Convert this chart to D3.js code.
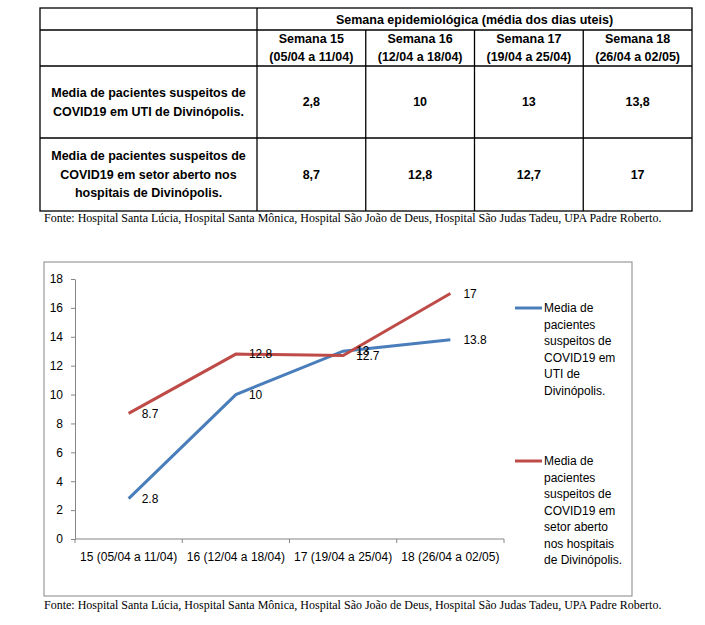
<!DOCTYPE html>
<html>
<head>
<meta charset="utf-8">
<script src="https://cdn.jsdelivr.net/npm/d3@7"></script>
<style>
body { margin: 0; background: #fff; }
text { font-family: "Liberation Sans", Arial, sans-serif; }
</style>
</head>
<body>
<script>
// Semanas epidemiologicas
var weeks = ["15", "16", "17", "18"];
var ranges = ["05/04 a 11/04", "12/04 a 18/04", "19/04 a 25/04", "26/04 a 02/05"];

// Series
var seriesNames = [
    "Media de pacientes suspeitos de COVID19 em UTI de Divinópolis.",
    "Media de pacientes suspeitos de COVID19 em setor aberto nos hospitais de Divinópolis."
];
var utiValues = [2.8, 10, 13, 13.8];
var abertoValues = [8.7, 12.8, 12.7, 17];
var seriesColors = ["#4a7ebb", "#be4b48"];

var yTicks = [0, 2, 4, 6, 8, 10, 12, 14, 16, 18];
var tableTitle = "Semana epidemiológica (média dos dias uteis)";
var fonte = "Fonte: Hospital Santa Lúcia, Hospital Santa Mônica, Hospital São João de Deus, Hospital São Judas Tadeu, UPA Padre Roberto.";

var allValues = [utiValues, abertoValues];

// comma decimal for the table
var br = d3.formatLocale({ decimal: ",", thousands: ".", grouping: [3], currency: ["", ""] });
var fmtBR = br.format("~g");

var svg = d3.select("body").append("svg")
    .attr("width", 705)
    .attr("height", 625);

// wrap text into lines that fit a width
function wrap(textSel, str, maxWidth) {
    var words = str.split(" ");
    var lines = [];
    var line = [];
    var tmp = textSel.append("tspan");
    words.forEach(function (w) {
        line.push(w);
        tmp.text(line.join(" "));
        if (tmp.node().getComputedTextLength() > maxWidth && line.length > 1) {
            line.pop();
            lines.push(line.join(" "));
            line = [w];
        }
    });
    lines.push(line.join(" "));
    tmp.remove();
    return lines;
}

// ---------- Table ----------
var tLeft = 40, tRight = 692, tTop = 8, tBottom = 211;
var col1 = 257;
var rowY = [tTop, 30, 66, 138, tBottom];
var cols = d3.scaleBand().domain(weeks).range([col1, tRight]);

var table = svg.append("g").attr("stroke", "#000").attr("stroke-width", 1.3);
table.append("rect")
    .attr("x", tLeft).attr("y", tTop)
    .attr("width", tRight - tLeft).attr("height", tBottom - tTop)
    .attr("fill", "none");
table.append("line").attr("x1", col1).attr("x2", col1).attr("y1", tTop).attr("y2", tBottom);
table.selectAll(".vcol")
    .data(weeks.slice(1))
    .enter().append("line")
    .attr("x1", function (d) { return cols(d); })
    .attr("x2", function (d) { return cols(d); })
    .attr("y1", rowY[1]).attr("y2", tBottom);
table.selectAll(".hrow")
    .data(rowY.slice(1, 4))
    .enter().append("line")
    .attr("x1", tLeft).attr("x2", tRight)
    .attr("y1", function (d) { return d; })
    .attr("y2", function (d) { return d; });

var tText = svg.append("g")
    .attr("font-weight", "bold")
    .attr("font-size", "12.5px")
    .attr("text-anchor", "middle")
    .attr("fill", "#000");

tText.append("text")
    .attr("x", (col1 + tRight) / 2)
    .attr("y", 20)
    .attr("dy", "0.35em")
    .text(tableTitle);

weeks.forEach(function (w, i) {
    var cx = cols(w) + cols.bandwidth() / 2;
    tText.append("text").attr("x", cx).attr("y", 39).attr("dy", "0.35em").text("Semana " + w);
    tText.append("text").attr("x", cx).attr("y", 57).attr("dy", "0.35em").text("(" + ranges[i] + ")");
});

seriesNames.forEach(function (name, r) {
    var top = rowY[r + 2], bot = rowY[r + 3];
    var cy = (top + bot) / 2;
    var t = tText.append("text");
    var lines = wrap(t, name, 205);
    var lh = 18.5;
    lines.forEach(function (ln, k) {
        t.append("tspan")
            .attr("x", (tLeft + col1) / 2)
            .attr("y", cy + (k - (lines.length - 1) / 2) * lh)
            .attr("dy", "0.35em")
            .text(ln);
    });
    allValues[r].forEach(function (v, i) {
        tText.append("text")
            .attr("x", cols(weeks[i]) + cols.bandwidth() / 2)
            .attr("y", cy)
            .attr("dy", "0.35em")
            .text(fmtBR(v));
    });
});

svg.append("text")
    .attr("x", 44).attr("y", 222)
    .style("font-family", "'Liberation Serif', 'Times New Roman', serif")
    .attr("font-size", "12px")
    .text(fonte);

// ---------- Chart ----------
svg.append("rect")
    .attr("x", 44).attr("y", 262)
    .attr("width", 588).attr("height", 334)
    .attr("fill", "#fff")
    .attr("stroke", "#868686")
    .attr("stroke-width", 1);

var x = d3.scaleBand().domain(weeks).range([75, 504]);
var y = d3.scaleLinear().domain([0, 18]).range([539, 279]);
var cx = function (i) { return x(weeks[i]) + x.bandwidth() / 2; };

var yAxis = svg.append("g")
    .attr("transform", "translate(75,0)")
    .call(d3.axisLeft(y).tickValues(yTicks).tickSize(4).tickSizeOuter(0).tickPadding(8));
yAxis.selectAll("text").attr("font-size", "12px").attr("fill", "#000").style("font-family", "'Liberation Sans', Arial, sans-serif");
yAxis.selectAll("line, path").attr("stroke", "#868686");

// x axis with ticks at category boundaries
var xAxis = svg.append("g");
xAxis.append("line")
    .attr("x1", x.range()[0]).attr("x2", x.range()[1])
    .attr("y1", y(0)).attr("y2", y(0))
    .attr("stroke", "#868686");
xAxis.selectAll(".tick")
    .data(weeks.map(function (w) { return x(w); }).concat([x.range()[1]]))
    .enter().append("line")
    .attr("x1", function (d) { return d; })
    .attr("x2", function (d) { return d; })
    .attr("y1", y(0)).attr("y2", y(0) + 4)
    .attr("stroke", "#868686");
xAxis.selectAll(".xlabel")
    .data(weeks)
    .enter().append("text")
    .attr("x", function (d, i) { return cx(i); })
    .attr("y", 557)
    .attr("dy", "0.35em")
    .attr("text-anchor", "middle")
    .attr("font-size", "12px")
    .text(function (d, i) { return d + " (" + ranges[i] + ")"; });

var line = d3.line()
    .x(function (d, i) { return cx(i); })
    .y(function (d) { return y(d); });

allValues.forEach(function (vals, s) {
    svg.append("path")
        .datum(vals)
        .attr("d", line)
        .attr("fill", "none")
        .attr("stroke", seriesColors[s])
        .attr("stroke-width", 3);
});

allValues.forEach(function (vals) {
    svg.selectAll(null)
        .data(vals)
        .enter().append("text")
        .attr("x", function (d, i) { return cx(i) + 13; })
        .attr("y", function (d) { return y(d); })
        .attr("dy", "0.35em")
        .attr("font-size", "12px")
        .attr("fill", "#000")
        .text(function (d) { return String(d); });
});

// legend
var legendY = [308, 461];
seriesNames.forEach(function (name, s) {
    var g = svg.append("g");
    g.append("line")
        .attr("x1", 515).attr("x2", 542)
        .attr("y1", legendY[s]).attr("y2", legendY[s])
        .attr("stroke", seriesColors[s])
        .attr("stroke-width", 3);
    var t = g.append("text").attr("font-size", "12px").attr("fill", "#000");
    var lines = wrap(t, name, 85);
    lines.forEach(function (ln, k) {
        t.append("tspan")
            .attr("x", 544)
            .attr("y", legendY[s] + k * 16.5)
            .attr("dy", "0.35em")
            .text(ln);
    });
});

svg.append("text")
    .attr("x", 44).attr("y", 609)
    .style("font-family", "'Liberation Serif', 'Times New Roman', serif")
    .attr("font-size", "12px")
    .text(fonte);
</script>
</body>
</html>
